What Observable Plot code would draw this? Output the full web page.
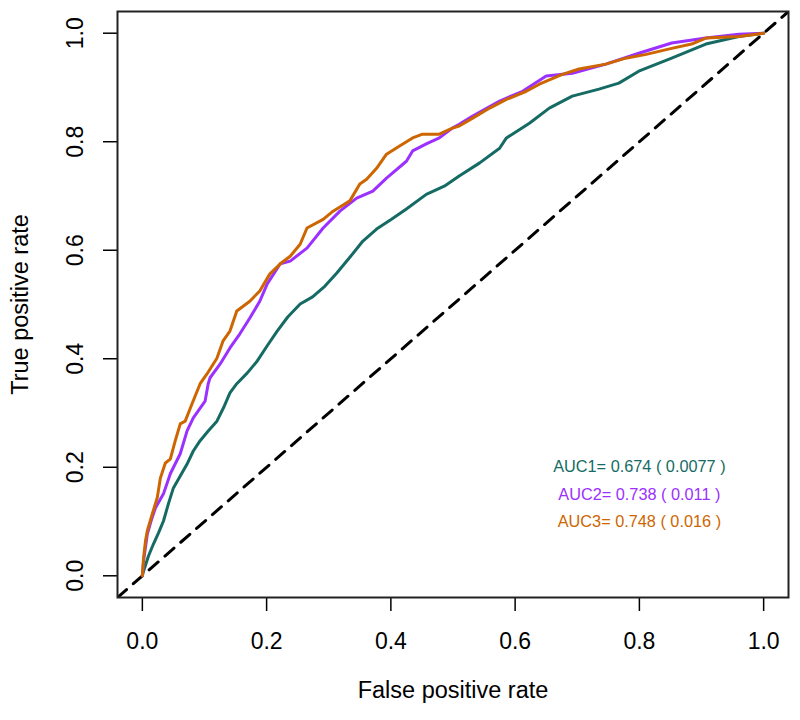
<!DOCTYPE html>
<html>
<head>
<meta charset="utf-8">
<script src="https://cdn.jsdelivr.net/npm/d3@7"></script>
<script src="https://cdn.jsdelivr.net/npm/@observablehq/plot@0.6"></script>
<style>
  html, body { margin: 0; padding: 0; background: #fff; }
  #chart { width: 800px; height: 720px; }
</style>
</head>
<body>
<div id="chart"></div>
<script>
// ---- Data ----
const xTicks = [0, 0.2, 0.4, 0.6, 0.8, 1.0];
const yTicks = [0, 0.2, 0.4, 0.6, 0.8, 1.0];
const axisDomain = [-0.04, 1.04];

const fpr1 = [0,0.002,0.010,0.018,0.026,0.034,0.042,0.050,0.061,0.072,0.082,0.093,0.106,0.120,0.132,0.141,0.152,0.169,0.185,0.201,0.217,0.234,0.254,0.274,0.294,0.313,0.334,0.355,0.377,0.401,0.425,0.457,0.486,0.510,0.543,0.575,0.586,0.623,0.655,0.692,0.735,0.767,0.799,0.852,0.907,0.960,1];
const tpr1 = [0,0.009,0.037,0.059,0.079,0.101,0.133,0.162,0.184,0.206,0.230,0.249,0.267,0.285,0.313,0.337,0.354,0.374,0.396,0.424,0.451,0.477,0.501,0.514,0.534,0.558,0.587,0.617,0.639,0.657,0.676,0.703,0.718,0.737,0.761,0.788,0.807,0.834,0.862,0.884,0.897,0.908,0.930,0.954,0.980,0.994,1];

const fpr2 = [0,0.002,0.008,0.014,0.021,0.034,0.045,0.061,0.072,0.082,0.101,0.106,0.109,0.125,0.141,0.157,0.173,0.189,0.201,0.222,0.238,0.265,0.291,0.318,0.345,0.371,0.393,0.425,0.435,0.457,0.478,0.499,0.510,0.531,0.575,0.612,0.650,0.692,0.746,0.799,0.852,0.907,0.960,1];
const tpr2 = [0,0.028,0.077,0.101,0.125,0.151,0.188,0.225,0.267,0.291,0.322,0.354,0.365,0.390,0.420,0.446,0.475,0.506,0.538,0.575,0.580,0.604,0.641,0.672,0.696,0.709,0.733,0.764,0.783,0.796,0.807,0.825,0.832,0.847,0.875,0.893,0.921,0.926,0.943,0.963,0.982,0.991,0.998,1];

const fpr3 = [0,0.002,0.005,0.008,0.016,0.024,0.029,0.037,0.045,0.053,0.061,0.069,0.080,0.093,0.104,0.120,0.130,0.141,0.152,0.173,0.189,0.205,0.222,0.238,0.254,0.265,0.291,0.307,0.334,0.350,0.361,0.377,0.393,0.414,0.435,0.451,0.478,0.499,0.510,0.531,0.559,0.586,0.618,0.639,0.676,0.703,0.746,0.778,0.811,0.852,0.884,0.907,0.960,1];
const tpr3 = [0,0.033,0.064,0.083,0.114,0.144,0.180,0.208,0.215,0.249,0.280,0.285,0.317,0.354,0.372,0.401,0.433,0.451,0.488,0.506,0.525,0.556,0.575,0.589,0.611,0.641,0.657,0.672,0.691,0.722,0.731,0.751,0.777,0.792,0.807,0.814,0.814,0.825,0.829,0.843,0.862,0.878,0.893,0.906,0.924,0.934,0.943,0.954,0.961,0.972,0.980,0.991,0.994,1];

const seriesNames = ["AUC1", "AUC2", "AUC3"];
const seriesColors = ["#156b64", "#9b30ff", "#cd6600"];
const aucValues = ["0.674", "0.738", "0.748"];
const aucSE = ["0.0077", "0.011", "0.016"];
const labelX = [0.8, 0.8, 0.8];
const labelY = [0.2, 0.15, 0.1];

// ---- Build tables ----
const curves = [
  {fpr: fpr1, tpr: tpr1},
  {fpr: fpr2, tpr: tpr2},
  {fpr: fpr3, tpr: tpr3}
];
const rocData = curves.flatMap((c, k) =>
  c.fpr.map((f, i) => ({series: seriesNames[k], fpr: f, tpr: c.tpr[i]}))
);
const labels = seriesNames.map((s, k) => ({
  series: s,
  text: `${s}= ${aucValues[k]} ( ${aucSE[k]} )`,
  x: labelX[k],
  y: labelY[k]
}));
const diag = axisDomain.map(v => ({v}));

const font = "'Liberation Sans', Arial, Helvetica, sans-serif";

const chart = Plot.plot({
  width: 800,
  height: 720,
  marginLeft: 117,
  marginRight: 12,
  marginTop: 11,
  marginBottom: 123,
  style: {fontFamily: font, fontSize: "23px", color: "#000", background: "#fff"},
  x: {domain: axisDomain},
  y: {domain: axisDomain},
  color: {domain: seriesNames, range: seriesColors},
  marks: [
    Plot.line(diag, {x: "v", y: "v", stroke: "#000", strokeWidth: 3, strokeDasharray: "12,9", clip: true}),
    Plot.line(rocData, {x: "fpr", y: "tpr", z: "series", stroke: "series", strokeWidth: 3, strokeLinejoin: "round"}),
    Plot.text(labels, {x: "x", y: "y", text: "text", fill: "series", fontSize: 16.3, textAnchor: "middle", lineAnchor: "middle"}),
    Plot.axisX({ticks: xTicks, tickSize: 14, tickPadding: 21, tickFormat: d3.format(".1f"), fontSize: 23, strokeWidth: 1.5, label: null}),
    Plot.axisY({ticks: yTicks, tickSize: 14, tickFormat: () => "", strokeWidth: 1.5, label: null}),
    Plot.text(yTicks, {y: d => d, text: d3.format(".1f"), frameAnchor: "left", dx: -42, rotate: -90, textAnchor: "middle", lineAnchor: "middle", fontSize: 23}),
    Plot.text(["False positive rate"], {frameAnchor: "bottom", dy: 93, text: d => d, textAnchor: "middle", lineAnchor: "middle", fontSize: 23.5}),
    Plot.text(["True positive rate"], {frameAnchor: "left", dx: -97, rotate: -90, text: d => d, textAnchor: "middle", lineAnchor: "middle", fontSize: 23.5}),
    Plot.frame({stroke: "#222", strokeWidth: 2})
  ]
});
document.getElementById("chart").appendChild(chart);
</script>
</body>
</html>
